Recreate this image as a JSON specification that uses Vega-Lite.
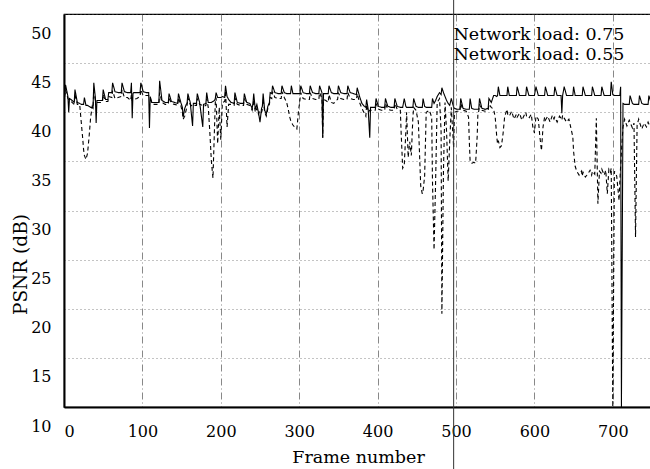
{
  "$schema": "https://vega.github.io/schema/vega-lite/v6.json",
  "autosize": "none",
  "width": 588,
  "height": 393,
  "padding": {"left": 64, "top": 14, "right": 0, "bottom": 62},
  "background": "white",
  "config": {
    "font": "DejaVu Serif",
    "view": {"stroke": "black", "strokeWidth": 1.2},
    "axis": {"labelFont": "DejaVu Serif", "titleFont": "DejaVu Serif", "labelColor": "black", "titleColor": "black", "titleFontWeight": "normal", "domainColor": "black", "domainWidth": 2, "ticks": false, "gridColor": "#555", "gridOpacity": 0.7, "gridWidth": 1}
  },
  "datasets": {
    "psnr": [
      {"f":0,"a":42.0,"b":41.8},{"f":1,"a":41.9,"b":41.7},{"f":2,"a":42.8,"b":42.3},{"f":5,"a":41.6,"b":41.4},{"f":6,"a":40.0,"b":41.3},{"f":7,"a":41.4,"b":41.2},{"f":9,"a":41.3,"b":41.1},{"f":13,"a":41.0,"b":40.8},{"f":14,"a":42.3,"b":41.8},{"f":17,"a":41.0,"b":40.8},{"f":20,"a":40.9,"b":40.8},{"f":22,"a":40.8,"b":39.0},{"f":24,"a":40.8,"b":37.2},{"f":25,"a":40.8,"b":36.2},{"f":26,"a":41.5,"b":35.6},{"f":28,"a":40.7,"b":35.2},{"f":30,"a":40.7,"b":35.8},{"f":32,"a":40.6,"b":37.5},{"f":34,"a":40.5,"b":39.5},{"f":36,"a":40.5,"b":40.6},{"f":37,"a":40.4,"b":40.4},{"f":38,"a":43.0,"b":42.2},{"f":40,"a":41.5,"b":41.2},{"f":41,"a":38.9,"b":41.0},{"f":42,"a":41.2,"b":41.0},{"f":46,"a":41.2,"b":41.0},{"f":49,"a":41.2,"b":41.0},{"f":50,"a":42.3,"b":41.8},{"f":53,"a":41.3,"b":41.1},{"f":56,"a":41.3,"b":41.1},{"f":57,"a":42.0,"b":41.6},{"f":61,"a":42.0,"b":41.5},{"f":62,"a":43.0,"b":42.2},{"f":65,"a":42.1,"b":41.4},{"f":69,"a":42.0,"b":41.5},{"f":73,"a":42.0,"b":41.6},{"f":74,"a":43.0,"b":42.3},{"f":77,"a":42.1,"b":41.5},{"f":81,"a":42.0,"b":41.5},{"f":85,"a":42.0,"b":41.2},{"f":86,"a":43.0,"b":41.8},{"f":87,"a":39.4,"b":41.2},{"f":88,"a":41.9,"b":41.2},{"f":89,"a":42.0,"b":41.3},{"f":93,"a":42.0,"b":41.4},{"f":97,"a":42.0,"b":41.6},{"f":98,"a":43.0,"b":42.3},{"f":101,"a":42.1,"b":41.7},{"f":105,"a":42.0,"b":41.7},{"f":108,"a":42.0,"b":41.7},{"f":109,"a":38.4,"b":41.5},{"f":110,"a":41.6,"b":41.4},{"f":112,"a":41.0,"b":40.9},{"f":113,"a":41.0,"b":40.8},{"f":117,"a":41.0,"b":40.8},{"f":121,"a":41.0,"b":40.8},{"f":122,"a":43.2,"b":42.0},{"f":125,"a":41.2,"b":41.0},{"f":129,"a":41.0,"b":40.8},{"f":133,"a":41.0,"b":40.8},{"f":134,"a":41.9,"b":41.5},{"f":137,"a":41.1,"b":40.9},{"f":141,"a":41.0,"b":40.8},{"f":145,"a":40.9,"b":40.7},{"f":146,"a":41.9,"b":41.5},{"f":149,"a":41.0,"b":40.7},{"f":151,"a":40.5,"b":40.0},{"f":152,"a":39.5,"b":39.3},{"f":154,"a":40.4,"b":39.6},{"f":156,"a":40.8,"b":40.3},{"f":157,"a":40.9,"b":40.7},{"f":158,"a":41.9,"b":41.5},{"f":161,"a":41.0,"b":40.8},{"f":164,"a":38.6,"b":40.6},{"f":165,"a":40.9,"b":40.7},{"f":169,"a":40.9,"b":40.7},{"f":170,"a":41.9,"b":41.4},{"f":173,"a":41.0,"b":40.8},{"f":177,"a":38.5,"b":40.7},{"f":178,"a":40.8,"b":40.6},{"f":181,"a":40.9,"b":40.7},{"f":182,"a":42.0,"b":41.4},{"f":184,"a":41.0,"b":40.5},{"f":186,"a":41.0,"b":38.0},{"f":188,"a":41.0,"b":35.0},{"f":190,"a":41.1,"b":33.3},{"f":192,"a":41.2,"b":38.5},{"f":193,"a":41.4,"b":41.0},{"f":194,"a":42.0,"b":41.5},{"f":196,"a":41.5,"b":36.8},{"f":198,"a":41.5,"b":40.5},{"f":200,"a":41.5,"b":37.2},{"f":202,"a":41.6,"b":41.0},{"f":205,"a":41.5,"b":41.1},{"f":206,"a":42.7,"b":42.2},{"f":208,"a":41.6,"b":38.5},{"f":210,"a":41.3,"b":40.8},{"f":213,"a":41.0,"b":40.8},{"f":217,"a":40.9,"b":40.7},{"f":218,"a":42.0,"b":41.5},{"f":221,"a":41.0,"b":40.8},{"f":225,"a":40.9,"b":40.7},{"f":229,"a":40.9,"b":40.7},{"f":230,"a":41.9,"b":41.4},{"f":233,"a":41.0,"b":40.8},{"f":237,"a":40.9,"b":40.7},{"f":240,"a":40.4,"b":40.2},{"f":241,"a":40.9,"b":40.6},{"f":242,"a":41.9,"b":41.3},{"f":244,"a":40.3,"b":40.0},{"f":246,"a":40.8,"b":40.4},{"f":248,"a":40.0,"b":39.8},{"f":250,"a":39.0,"b":40.2},{"f":252,"a":40.4,"b":40.0},{"f":253,"a":40.6,"b":40.3},{"f":254,"a":41.9,"b":41.3},{"f":256,"a":40.2,"b":40.0},{"f":258,"a":39.8,"b":39.6},{"f":260,"a":40.6,"b":40.4},{"f":262,"a":41.0,"b":40.8},{"f":263,"a":42.0,"b":41.5},{"f":265,"a":41.9,"b":41.4},{"f":266,"a":42.7,"b":42.1},{"f":269,"a":42.0,"b":41.5},{"f":273,"a":41.9,"b":41.4},{"f":277,"a":41.9,"b":41.4},{"f":278,"a":42.7,"b":42.1},{"f":281,"a":42.0,"b":41.5},{"f":284,"a":41.9,"b":41.0},{"f":286,"a":41.9,"b":40.3},{"f":288,"a":41.9,"b":39.5},{"f":289,"a":41.9,"b":39.2},{"f":290,"a":42.7,"b":39.0},{"f":292,"a":41.9,"b":38.7},{"f":294,"a":41.9,"b":38.5},{"f":297,"a":41.9,"b":38.3},{"f":299,"a":41.9,"b":40.0},{"f":301,"a":41.9,"b":41.3},{"f":302,"a":42.7,"b":42.0},{"f":305,"a":42.0,"b":41.4},{"f":309,"a":41.9,"b":41.3},{"f":313,"a":41.9,"b":41.3},{"f":314,"a":42.7,"b":42.0},{"f":317,"a":42.0,"b":41.4},{"f":321,"a":41.9,"b":41.3},{"f":325,"a":41.9,"b":41.3},{"f":326,"a":42.7,"b":42.0},{"f":329,"a":42.0,"b":41.4},{"f":330,"a":37.4,"b":37.4},{"f":331,"a":41.9,"b":41.3},{"f":334,"a":41.9,"b":41.2},{"f":337,"a":41.9,"b":41.0},{"f":338,"a":42.7,"b":41.8},{"f":341,"a":42.0,"b":41.0},{"f":344,"a":41.9,"b":40.9},{"f":347,"a":41.9,"b":41.2},{"f":349,"a":41.9,"b":41.3},{"f":350,"a":42.7,"b":42.0},{"f":353,"a":42.0,"b":41.4},{"f":357,"a":41.9,"b":41.3},{"f":361,"a":41.9,"b":41.3},{"f":362,"a":42.7,"b":42.0},{"f":365,"a":42.0,"b":41.4},{"f":369,"a":41.9,"b":41.3},{"f":373,"a":41.8,"b":41.3},{"f":374,"a":42.5,"b":41.9},{"f":377,"a":41.6,"b":41.0},{"f":380,"a":40.9,"b":40.4},{"f":383,"a":40.6,"b":39.9},{"f":385,"a":40.5,"b":39.6},{"f":386,"a":41.3,"b":40.8},{"f":388,"a":40.3,"b":40.0},{"f":390,"a":37.4,"b":40.2},{"f":391,"a":40.5,"b":40.2},{"f":394,"a":40.5,"b":40.2},{"f":397,"a":40.5,"b":40.2},{"f":398,"a":41.4,"b":40.9},{"f":401,"a":40.6,"b":40.3},{"f":405,"a":40.5,"b":40.2},{"f":409,"a":40.5,"b":40.2},{"f":410,"a":41.4,"b":40.9},{"f":413,"a":40.6,"b":40.3},{"f":417,"a":40.5,"b":40.2},{"f":421,"a":40.5,"b":40.2},{"f":422,"a":41.4,"b":40.9},{"f":425,"a":40.6,"b":40.3},{"f":429,"a":40.5,"b":40.2},{"f":430,"a":40.5,"b":38.0},{"f":432,"a":40.5,"b":34.3},{"f":434,"a":41.4,"b":34.6},{"f":436,"a":40.6,"b":38.0},{"f":437,"a":40.5,"b":40.0},{"f":439,"a":40.5,"b":35.4},{"f":441,"a":40.5,"b":37.0},{"f":443,"a":40.5,"b":35.6},{"f":445,"a":40.5,"b":39.5},{"f":446,"a":41.4,"b":40.5},{"f":449,"a":40.6,"b":40.2},{"f":452,"a":40.5,"b":39.0},{"f":455,"a":40.5,"b":32.5},{"f":457,"a":40.5,"b":31.7},{"f":458,"a":41.4,"b":32.0},{"f":460,"a":40.6,"b":33.5},{"f":462,"a":40.5,"b":40.0},{"f":466,"a":40.5,"b":40.2},{"f":469,"a":40.5,"b":39.5},{"f":470,"a":41.4,"b":33.0},{"f":472,"a":40.9,"b":26.0},{"f":474,"a":41.2,"b":33.0},{"f":476,"a":41.6,"b":41.0},{"f":479,"a":42.0,"b":41.4},{"f":481,"a":41.8,"b":38.0},{"f":482,"a":42.5,"b":19.5},{"f":484,"a":42.0,"b":34.0},{"f":486,"a":41.6,"b":41.0},{"f":488,"a":41.2,"b":38.0},{"f":490,"a":40.9,"b":33.0},{"f":492,"a":40.7,"b":37.0},{"f":494,"a":41.4,"b":40.5},{"f":497,"a":40.5,"b":36.4},{"f":498,"a":40.4,"b":40.0},{"f":501,"a":40.3,"b":40.1},{"f":505,"a":40.3,"b":40.1},{"f":506,"a":41.4,"b":40.9},{"f":509,"a":40.4,"b":40.2},{"f":513,"a":40.3,"b":40.1},{"f":516,"a":40.3,"b":39.5},{"f":517,"a":40.3,"b":37.0},{"f":518,"a":41.4,"b":35.0},{"f":520,"a":40.4,"b":34.8},{"f":523,"a":40.3,"b":34.9},{"f":525,"a":40.3,"b":34.8},{"f":527,"a":40.3,"b":37.5},{"f":528,"a":40.3,"b":40.0},{"f":529,"a":40.3,"b":40.1},{"f":530,"a":41.4,"b":40.8},{"f":533,"a":40.4,"b":40.2},{"f":537,"a":40.3,"b":40.1},{"f":541,"a":40.4,"b":40.2},{"f":542,"a":41.4,"b":40.8},{"f":545,"a":41.0,"b":40.5},{"f":548,"a":41.7,"b":40.3},{"f":550,"a":41.7,"b":39.5},{"f":552,"a":41.6,"b":37.5},{"f":553,"a":41.7,"b":36.8},{"f":554,"a":42.6,"b":37.1},{"f":556,"a":41.7,"b":36.4},{"f":558,"a":41.7,"b":36.6},{"f":560,"a":41.7,"b":37.8},{"f":562,"a":41.7,"b":39.5},{"f":565,"a":41.7,"b":40.3},{"f":566,"a":42.6,"b":39.8},{"f":568,"a":41.7,"b":39.6},{"f":571,"a":41.7,"b":40.1},{"f":574,"a":41.7,"b":39.3},{"f":577,"a":41.7,"b":39.8},{"f":578,"a":42.6,"b":39.5},{"f":581,"a":41.7,"b":39.9},{"f":584,"a":41.7,"b":39.2},{"f":587,"a":41.7,"b":39.7},{"f":589,"a":41.7,"b":40.0},{"f":590,"a":42.6,"b":39.6},{"f":593,"a":41.7,"b":39.4},{"f":596,"a":41.7,"b":39.8},{"f":598,"a":41.7,"b":38.5},{"f":600,"a":41.7,"b":37.9},{"f":602,"a":42.6,"b":39.6},{"f":605,"a":41.7,"b":39.3},{"f":607,"a":41.7,"b":37.5},{"f":609,"a":41.7,"b":36.1},{"f":611,"a":41.7,"b":38.5},{"f":613,"a":41.7,"b":39.5},{"f":614,"a":42.6,"b":39.2},{"f":617,"a":41.7,"b":39.6},{"f":620,"a":41.7,"b":39.0},{"f":623,"a":41.7,"b":39.7},{"f":625,"a":41.7,"b":39.3},{"f":626,"a":42.6,"b":39.5},{"f":629,"a":41.7,"b":39.0},{"f":632,"a":41.7,"b":39.6},{"f":634,"a":41.7,"b":39.4},{"f":635,"a":39.9,"b":39.2},{"f":636,"a":41.7,"b":39.7},{"f":638,"a":42.6,"b":39.4},{"f":641,"a":41.7,"b":39.0},{"f":644,"a":41.7,"b":39.3},{"f":646,"a":41.7,"b":38.6},{"f":649,"a":41.7,"b":37.5},{"f":650,"a":42.6,"b":36.0},{"f":652,"a":41.7,"b":34.5},{"f":654,"a":41.7,"b":34.0},{"f":657,"a":41.7,"b":33.6},{"f":660,"a":41.7,"b":34.0},{"f":661,"a":41.7,"b":33.5},{"f":662,"a":42.6,"b":33.9},{"f":665,"a":41.7,"b":33.4},{"f":668,"a":41.7,"b":33.7},{"f":671,"a":41.7,"b":34.1},{"f":673,"a":41.7,"b":33.6},{"f":674,"a":42.6,"b":34.0},{"f":677,"a":41.7,"b":33.7},{"f":679,"a":41.7,"b":39.4},{"f":681,"a":41.7,"b":30.7},{"f":683,"a":41.7,"b":34.0},{"f":685,"a":41.7,"b":33.8},{"f":686,"a":42.6,"b":34.2},{"f":689,"a":41.7,"b":33.6},{"f":691,"a":41.7,"b":34.1},{"f":693,"a":41.7,"b":31.7},{"f":695,"a":41.7,"b":34.2},{"f":697,"a":41.7,"b":33.9},{"f":698,"a":43.1,"b":34.3},{"f":700,"a":41.8,"b":10.0},{"f":702,"a":41.7,"b":34.0},{"f":705,"a":41.7,"b":33.5},{"f":708,"a":41.7,"b":31.0},{"f":709,"a":41.7,"b":33.0},{"f":710,"a":42.6,"b":34.5},{"f":711,"a":10.0,"b":36.0},{"f":713,"a":40.9,"b":38.5},{"f":715,"a":40.8,"b":39.3},{"f":718,"a":40.8,"b":38.6},{"f":721,"a":40.8,"b":39.2},{"f":722,"a":41.7,"b":39.0},{"f":725,"a":40.9,"b":38.4},{"f":727,"a":40.8,"b":38.9},{"f":729,"a":40.8,"b":27.3},{"f":731,"a":40.8,"b":38.7},{"f":733,"a":40.8,"b":39.3},{"f":734,"a":41.7,"b":39.0},{"f":737,"a":40.9,"b":38.3},{"f":740,"a":40.8,"b":38.9},{"f":743,"a":40.8,"b":38.5},{"f":745,"a":40.8,"b":39.0},{"f":746,"a":41.7,"b":38.8},{"f":749,"a":40.9,"b":38.6}
    ]
  },
  "layer": [
    {
      "data": {"name": "psnr"},
      "transform": [{"fold": ["b", "a"], "as": ["k", "v"]}],
      "mark": {"type": "line", "color": "black", "strokeWidth": 1.1, "clip": true},
      "encoding": {
        "x": {"field": "f", "type": "quantitative", "scale": {"domain": [0, 750], "nice": false, "zero": false},
          "axis": {"title": "Frame number", "values": [0,100,200,300,400,500,600,700], "labelFontSize": 16, "labelPadding": 16, "titleFontSize": 17.5, "titlePadding": 9, "gridDash": [7,3,1,3]}},
        "y": {"field": "v", "type": "quantitative", "scale": {"domain": [10, 50], "nice": false, "zero": false},
          "axis": {"title": "PSNR (dB)", "values": [10,15,20,25,30,35,40,45,50], "labelFontSize": 16, "labelPadding": 13, "labelOffset": 19, "titleFontSize": 18.5, "titleAngle": -90, "titleX": -44, "titleY": 250, "titleAlign": "center", "titleBaseline": "middle", "gridDash": [1,3]}},
        "strokeDash": {"field": "k", "type": "nominal", "scale": {"domain": ["b", "a"], "range": [[4,3],[1,0]]},
          "legend": {"orient": "none", "legendX": 372, "legendY": 12, "title": null, "labelExpr": "datum.value == 'b' ? 'Network load: 0.75' : 'Network load: 0.55'", "labelFontSize": 17.5, "labelFont": "DejaVu Serif", "labelColor": "black", "labelLimit": 400, "symbolSize": 0, "symbolOpacity": 0, "symbolStrokeWidth": 0, "labelOffset": 0, "rowPadding": 1.5, "padding": 0}}
      }
    },
    {
      "data": {"values": [{}]},
      "mark": {"type": "rule", "color": "#333", "strokeWidth": 1},
      "encoding": {"x": {"datum": 497}, "y": {"datum": 3}, "y2": {"datum": 52}}
    }
  ]
}
